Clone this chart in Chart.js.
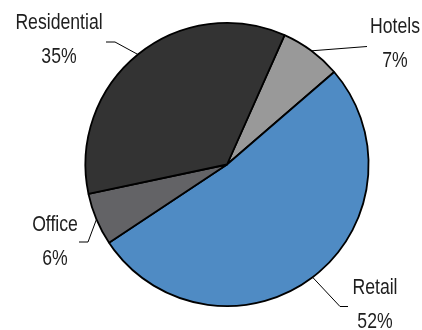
<!DOCTYPE html>
<html>
<head>
<meta charset="utf-8">
<script src="https://cdn.jsdelivr.net/npm/chart.js@4"></script>
<style>
  body { margin: 0; background: #fff; }
</style>
</head>
<body>
<canvas id="myChart" width="422" height="330"></canvas>
<script>
const sectors = ["Hotels", "Retail", "Office", "Residential"];
const shares = [7, 52, 6, 35];
const sliceColors = ["#999999", "#4f8bc4", "#636366", "#333333"];

// where each label sits: text centre x, baseline of the name line,
// leader elbow and end of the short horizontal tail
const labelLayout = [
  { tx: 395, ty: 33, elbow: [367, 46.5], tail: [367, 46.5] },
  { tx: 375, ty: 294, elbow: [340, 306.5], tail: [348, 306.5] },
  { tx: 55, ty: 231, elbow: [88, 242], tail: [79, 242] },
  { tx: 59, ty: 29, elbow: [115, 42], tail: [106, 42] },
];

const outsideLabels = {
  id: "outsideLabels",
  afterDraw(chart) {
    const ctx = chart.ctx;
    const arcs = chart.getDatasetMeta(0).data;
    ctx.save();
    arcs.forEach((arc, i) => {
      const { x, y, startAngle, endAngle, outerRadius } = arc.getProps(
        ["x", "y", "startAngle", "endAngle", "outerRadius"], true
      );
      const mid = (startAngle + endAngle) / 2;
      const lay = labelLayout[i];

      // leader line from the slice edge
      ctx.beginPath();
      ctx.moveTo(x + Math.cos(mid) * outerRadius, y + Math.sin(mid) * outerRadius);
      ctx.lineTo(lay.elbow[0], lay.elbow[1]);
      ctx.lineTo(lay.tail[0], lay.tail[1]);
      ctx.strokeStyle = "#000";
      ctx.lineWidth = 1;
      ctx.stroke();

      // name and share, drawn condensed
      const lines = [sectors[i], shares[i] + "%"];
      lines.forEach((txt, j) => {
        ctx.save();
        ctx.translate(lay.tx, lay.ty + j * 34);
        ctx.scale(0.82, 1);
        ctx.font = '21.5px "Liberation Sans", Arial, sans-serif';
        ctx.fillStyle = "#1e1e1e";
        ctx.textAlign = "center";
        ctx.textBaseline = "alphabetic";
        ctx.fillText(txt, 0, 0);
        ctx.restore();
      });
    });
    ctx.restore();
  },
};

const data = {
  labels: sectors,
  datasets: [
    {
      data: shares,
      backgroundColor: sliceColors,
      borderColor: "#000000",
      borderWidth: 1.8,
    },
  ],
};

const config = {
  type: "pie",
  data: data,
  options: {
    responsive: false,
    animation: false,
    rotation: 24,
    layout: {
      padding: { top: 22, bottom: 23, left: 32, right: 0 },
    },
    plugins: {
      legend: { display: false },
      tooltip: { enabled: false },
    },
  },
  plugins: [outsideLabels],
};

new Chart(document.getElementById("myChart"), config);
</script>
</body>
</html>
